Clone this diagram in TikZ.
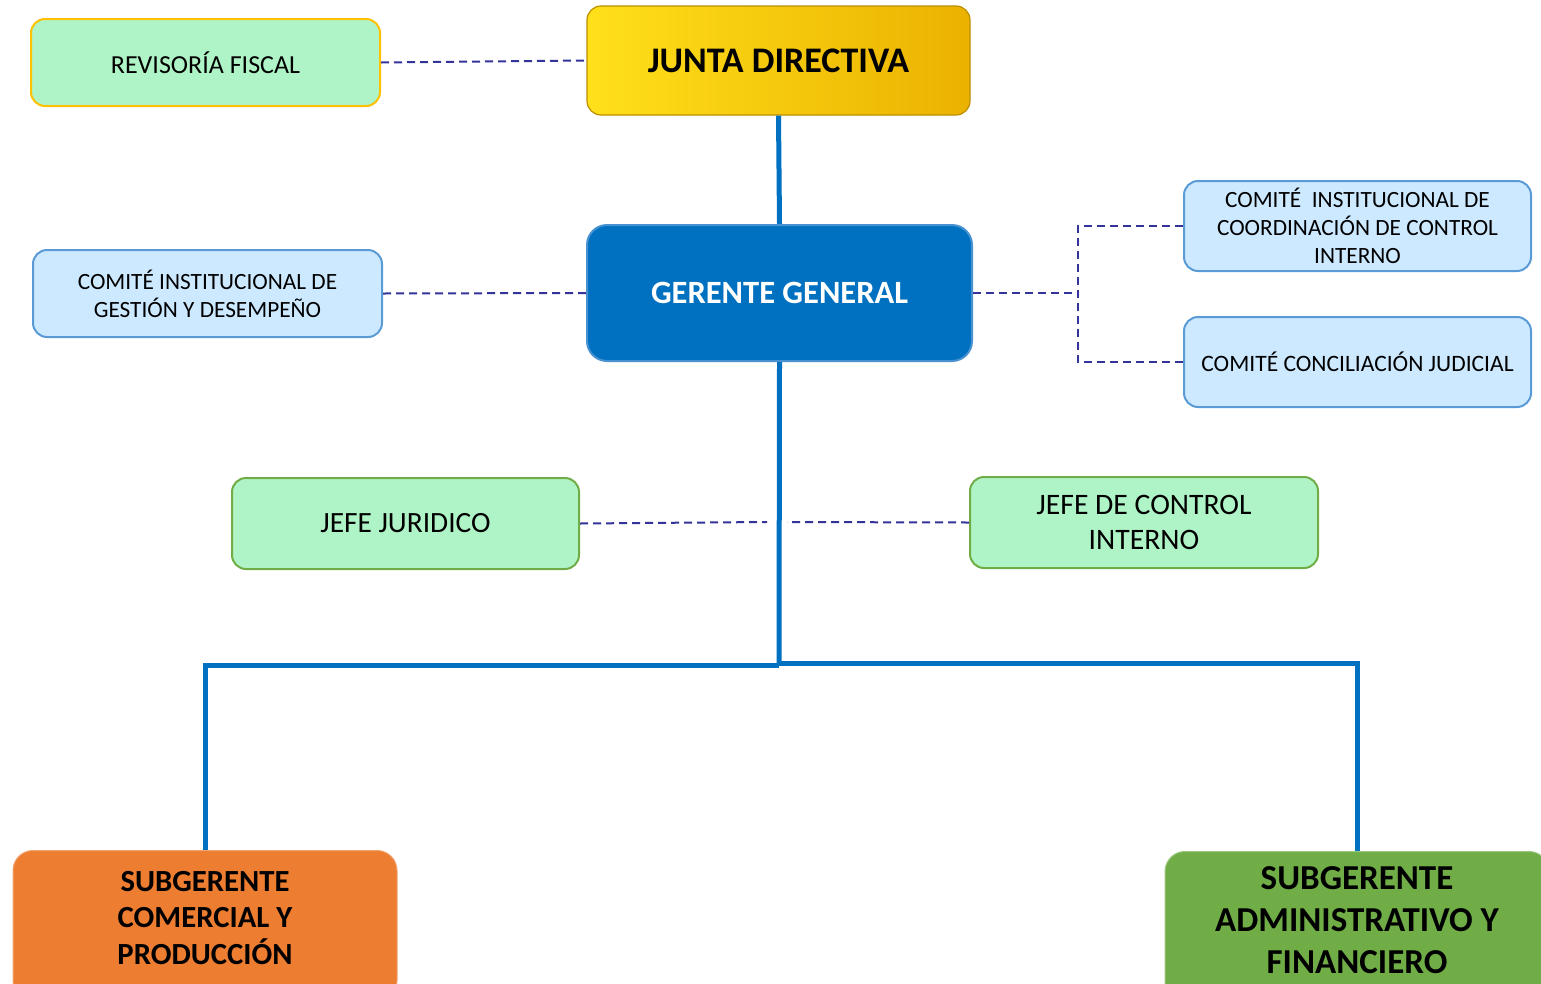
\documentclass[tikz,border=0pt]{standalone}
\usepackage{fontspec}
\setmainfont{Carlito}
\usetikzlibrary{calc}
\definecolor{lgreen}{HTML}{AFF4C6}
\definecolor{gold}{HTML}{FFC000}
\definecolor{lblue}{HTML}{CCE9FF}
\definecolor{mblue}{HTML}{5B9BD5}
\definecolor{dblue}{HTML}{0070C0}
\definecolor{dash}{HTML}{333399}
\definecolor{ggreen}{HTML}{70AD47}
\definecolor{orng}{HTML}{ED7D31}
\definecolor{yl}{HTML}{FFE01A}
\definecolor{yr}{HTML}{EBB200}
\tikzset{
  box/.style={rounded corners=14pt, line width=2pt, align=center, inner sep=0pt},
  dashln/.style={draw=dash, line width=2pt, dash pattern=on 8pt off 5pt},
  trunk/.style={draw=dblue, line width=5pt},
}
\newcommand{\fs}[2]{\fontsize{#1}{#2}\selectfont}
\begin{document}
\begin{tikzpicture}[x=1pt,y=-1pt]
\useasboundingbox (0,0) rectangle (1541,983);
\clip (0,0) rectangle (1541,983);
% nodes
\node[box, draw=gold, fill=lgreen, minimum width=349pt, minimum height=87pt, font=\fs{26}{30}] (rf) at (205.5,62.5) {REVISORÍA FISCAL};
\node[box, draw=yr!80!black, line width=1.2pt, left color=yl, right color=yr, minimum width=383pt, minimum height=109pt, font=\fs{36}{40}\bfseries] (jd) at (778.5,60.5) {JUNTA DIRECTIVA};
\node[box, draw=mblue!80!dblue, fill=dblue, text=white, minimum width=385pt, minimum height=136pt, rounded corners=20pt, font=\fs{32.5}{36}\bfseries] (gg) at (779.5,293) {GERENTE GENERAL};
\node[box, draw=mblue, fill=lblue, minimum width=349pt, minimum height=87pt, font=\fs{23.3}{28}] (cg) at (207.5,293.5) {COMITÉ INSTITUCIONAL DE\\GESTIÓN Y DESEMPEÑO};
\node[box, draw=mblue, fill=lblue, minimum width=347pt, minimum height=90pt, font=\fs{23.3}{28}] (cc) at (1357.5,226) {COMITÉ\ \ INSTITUCIONAL DE\\COORDINACIÓN DE CONTROL\\INTERNO};
\node[box, draw=mblue, fill=lblue, minimum width=347pt, minimum height=90pt, font=\fs{23.5}{28}] (cj) at (1357.5,362) {COMITÉ CONCILIACIÓN JUDICIAL};
\node[box, draw=ggreen, fill=lgreen, minimum width=347pt, minimum height=91pt, font=\fs{29.4}{34}] (jj) at (405.5,523.5) {JEFE JURIDICO};
\node[box, draw=ggreen, fill=lgreen, minimum width=348pt, minimum height=91pt, font=\fs{29.7}{35}] (jc) at (1144,522.5) {JEFE DE CONTROL\\INTERNO};
\node[box, draw=orng!70!white, line width=1pt, fill=orng, minimum width=384pt, minimum height=150pt, rounded corners=20pt, anchor=north] (sc) at (205,850) {};
\node[align=center, font=\fs{30.7}{36.5}\bfseries] (sct) at (205,918) {SUBGERENTE\\COMERCIAL Y\\PRODUCCIÓN};
\node[box, draw=ggreen!70!white, line width=1pt, fill=ggreen, minimum width=384pt, minimum height=150pt, rounded corners=20pt, anchor=north] (sa) at (1357,851) {};
\node[align=center, font=\fs{35}{42}\bfseries] (sat) at (1357,920) {SUBGERENTE\\ADMINISTRATIVO Y\\FINANCIERO};
% connector coordinates
\coordinate (bx) at (1078,293);
\coordinate (mid) at (779,665);
\coordinate (jm) at (779,522);
% dashed connectors
\draw[dashln] (rf.east) -- (jd.west);
\draw[dashln] (cg.east) -- (gg.west);
\draw[dashln] (gg.east) -- (bx);
\draw[dashln] (cc.west) -| (bx) |- (cj.west);
\draw[dashln] (jj.east) -- ($(jm)+(-12,0)$);
\draw[dashln] (jc.west) -- ($(jm)+(8,0)$);
% solid connectors
\draw[trunk] (jd.south) -- (gg.north);
\draw[trunk] (gg.south) -- (mid);
\draw[trunk] (mid) -- (205,665) -- (sc.north);
\draw[trunk] (779,663) -- (1357,663) -- (sa.north);
\end{tikzpicture}
\end{document}
